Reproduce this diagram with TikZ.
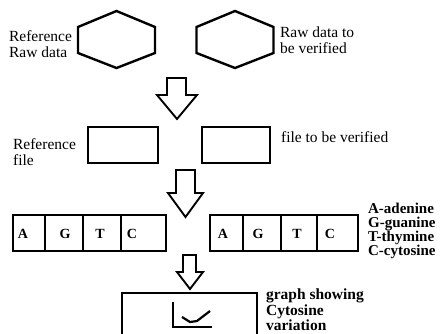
\documentclass[tikz,border=0pt]{standalone}
\usepackage{fontspec}
\setmainfont{Liberation Serif}
\begin{document}
\begin{tikzpicture}[x=1pt,y=-1pt,line width=2.2pt,line join=miter,
  lbl/.style={font=\fontsize{15.5}{16}\selectfont,align=left,inner sep=0,anchor=west},
  blbl/.style={font=\bfseries\fontsize{15}{14}\selectfont,align=left,inner sep=0,anchor=west},
  glbl/.style={font=\bfseries\fontsize{15.5}{15.5}\selectfont,align=left,inner sep=0,anchor=west},
  letter/.style={font=\bfseries\fontsize{14}{14}\selectfont,inner sep=0},
  box/.style={draw,inner sep=0},
  blockarrow/.style={draw,line width=1.9pt,fill=white},
  hexa/.pic={\draw[line width=2.4pt] (0,-28.5) -- (38.5,-12.5) -- (38.5,13.5) -- (0,28.5) -- (-38.5,13.5) -- (-38.5,-12.5) -- cycle;}]
\useasboundingbox (0,0) rectangle (440,333);
\clip (0,0) rectangle (440,333);
% row 1: hexagons
\pic (hexL) at (116.5,39.5) {hexa};
\pic (hexR) at (235,39.5) {hexa};
\node[lbl] (tRefRaw) at (8,44) {Reference\\Raw data};
\node[lbl] (tRawVer) at (279,40.5) {Raw data to\\be verified};
% arrow 1
\draw[blockarrow] (167,78) -- (186,78) -- (186,95) -- (197,95) -- (177,119) -- (157,95) -- (167,95) -- cycle;
% row 2: files
\draw[box] (88,127) rectangle (158,163);
\draw[box] (202,127) rectangle (270,163);
\node[lbl] (tRefFile) at (12,152) {Reference\\file};
\node[lbl] (tFileVer) at (280,137) {file to be verified};
% arrow 2
\draw[blockarrow] (176,170) -- (195,170) -- (195,193) -- (203,193) -- (185.5,217) -- (168,193) -- (176,193) -- cycle;
% row 3: sequences
\draw[box] (13,215) rectangle (166,251);
\foreach \x in {45,83,121} \draw (\x,215) -- (\x,251);
\node[letter] (lA) at (23,234) {A};
\node[letter] (lG) at (65,234) {G};
\node[letter] (lT) at (100,234) {T};
\node[letter] (lC) at (132,234) {C};
\draw[box] (210,215) rectangle (358,251);
\foreach \x in {243,281,317} \draw (\x,215) -- (\x,251);
\node[letter] (rA) at (223,234) {A};
\node[letter] (rG) at (258,234) {G};
\node[letter] (rT) at (297,234) {T};
\node[letter] (rC) at (330,234) {C};
\node[blbl] (legend) at (367,231) {A-adenine\\G-guanine\\T-thymine\\C-cytosine};
% arrow 3
\draw[blockarrow] (183,255) -- (196,255) -- (196,272) -- (203,272) -- (190,289) -- (177,272) -- (183,272) -- cycle;
% bottom graph box
\draw (122,345) |- (257,293) -- (257,345);
\draw (173,302) -- (173,327) -- (212,327);
\draw[line join=round] (182,317) -- (190,322) -- (197,321) -- (210,311);
\node[glbl] (tGraph) at (265,310) {graph showing\\Cytosine\\variation};
\end{tikzpicture}
\end{document}
